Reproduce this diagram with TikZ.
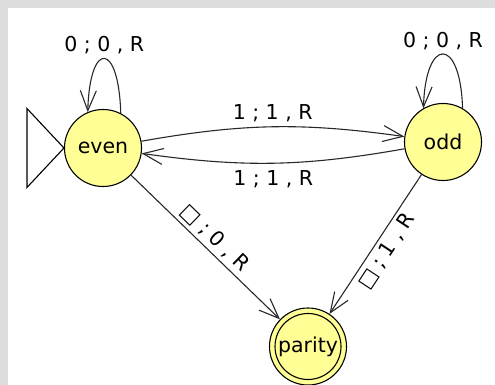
\documentclass[tikz,border=0pt]{standalone}
\usepackage{fontspec}
\setmainfont{DejaVu Sans}
\usetikzlibrary{arrows.meta}
\definecolor{stateyellow}{RGB}{255,255,150}
\definecolor{framegray}{RGB}{221,221,221}
\definecolor{inkline}{RGB}{40,40,40}

\begin{document}
\begin{tikzpicture}[x=1pt,y=-1pt,
  every node/.style={font=\fontsize{20.5}{24}\selectfont},
  state/.style={circle, draw=black, fill=stateyellow, line width=1.1pt,
    minimum size=77pt, inner sep=0pt},
  accepting/.style={path picture={\draw[line width=1.1pt]
    (path picture bounding box.center) circle (33pt);}},
  trans/.style={draw=inkline, line width=1.1pt,
    -{Straight Barb[length=20pt,width=16pt,line width=1.1pt]}},
  lbl/.style={inner sep=4pt}]
  % canvas with its grey frame
  \fill[framegray] (0,0) rectangle (495,385);
  \fill[white] (8,8) rectangle (495,385);
  \useasboundingbox (0,0) rectangle (495,385);

  % states
  \node[state] (even) at (103,148) {even};
  \node[state] (odd) at (443,142) {odd};
  \node[state,accepting] (parity) at (308,346.5) {parity};

  % initial-state marker
  \coordinate (s1) at ([xshift=-37pt,yshift=39.5pt]even.west);
  \coordinate (s2) at ([xshift=-37pt,yshift=-39.5pt]even.west);
  \draw[line width=1.1pt] (even.west) -- (s1) -- (s2) -- cycle;

  % self loops
  \draw[trans] (even.63) .. controls +(-2,-72) and +(2,-72)
    .. node[above,lbl] {0 ; 0 , R} (even.113);
  \draw[trans] (odd.60) .. controls +(-2,-72) and +(2,-72)
    .. node[above,lbl] {0 ; 0 , R} (odd.120);

  % transitions between even and odd
  \draw[trans] (even) to[bend left=9] node[above,lbl] {1 ; 1 , R} (odd);
  \draw[trans] (odd) to[bend left=9] node[below,inner sep=7pt] {1 ; 1 , R} (even);

  % transitions into the final state
  \draw[trans] (even) -- node[sloped,above,lbl] {□ ; 0 , R} (parity);
  \draw[trans] (odd) -- node[sloped,below,lbl] {□ ; 1 , R} (parity);
\end{tikzpicture}
\end{document}
